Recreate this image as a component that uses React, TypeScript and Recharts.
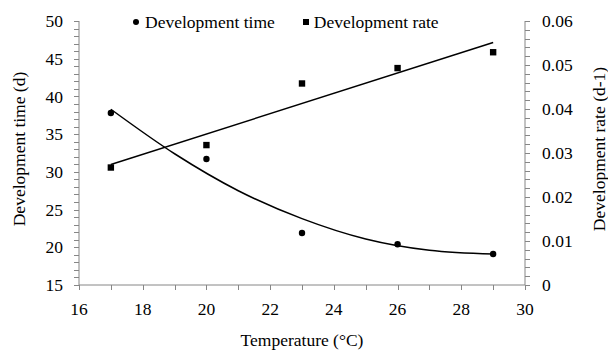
import React from 'react'
import {
  ComposedChart, Scatter, Line, XAxis, YAxis,
} from 'recharts'

// measured points
const temps = [17, 20, 23, 26, 29]
const devTime = [37.8, 31.7, 21.9, 20.4, 19.1]
const devRate = [0.0267, 0.0318, 0.0458, 0.0493, 0.0529]

// trend lines
const timeTrendX = [17, 19, 21, 23, 25, 27, 29]
const timeTrendY = [38.3, 32.4, 27.5, 23.8, 21.1, 19.6, 19.1]
const rateTrendX = [17, 29]
const rateTrendY = [0.0274, 0.0551]

const xTicks = [16, 17, 18, 19, 20, 21, 22, 23, 24, 25, 26, 27, 28, 29, 30]
const xLabels = [16, 18, 20, 22, 24, 26, 28, 30]
const leftLabels = [15, 20, 25, 30, 35, 40, 45, 50]
const rightLabels = [0, 0.01, 0.02, 0.03, 0.04, 0.05, 0.06]
const leftTicks: number[] = []
for (let v = 15; v <= 50; v++) leftTicks.push(v)
const rightTicks: number[] = []
for (let i = 0; i <= 30; i++) rightTicks.push(Number((i * 0.002).toFixed(3)))

const FONT = '"Liberation Serif", "Times New Roman", serif'
const AXIS = '#868686'
const FS = 17.5

const timeData = temps.map((t, i) => ({ t, v: devTime[i] }))
const rateData = temps.map((t, i) => ({ t, v: devRate[i] }))
const timeTrend = timeTrendX.map((t, i) => ({ t, v: timeTrendY[i] }))
const rateTrend = rateTrendX.map((t, i) => ({ t, v: rateTrendY[i] }))

// tick marks placed on the axis lines (major + minor)
const leftTickData = leftTicks.map((v) => ({ t: 16, v }))
const rightTickData = rightTicks.map((v) => ({ t: 30, v }))
const bottomTickData = xTicks.map((t) => ({ t, v: 15 }))

const Dot = (p: any) => <circle cx={p.cx} cy={p.cy} r={3.2} fill="#000" />
const Square = (p: any) => <rect x={p.cx - 3.2} y={p.cy - 3.2} width={6.4} height={6.4} fill="#000" />
const LeftMark = (p: any) => {
  const y = Math.round(p.cy) + 0.5
  return <line x1={p.cx - 5} x2={p.cx} y1={y} y2={y} stroke={AXIS} shapeRendering="crispEdges" />
}
const RightMark = (p: any) => {
  const y = Math.round(p.cy) + 0.5
  return <line x1={p.cx} x2={p.cx + 5} y1={y} y2={y} stroke={AXIS} shapeRendering="crispEdges" />
}
const BottomMark = (p: any) => {
  const x = Math.round(p.cx) + 0.5
  return <line x1={x} x2={x} y1={p.cy} y2={p.cy + 5} stroke={AXIS} shapeRendering="crispEdges" />
}

const textStyle = { fontSize: FS, fontFamily: FONT, fill: '#000' }

const fmtRate = (v: number) => (v === 0 ? '0' : v.toFixed(2))

export default function App() {
  return (
    <div style={{ position: 'absolute', left: 0, top: 0, width: 608, height: 351, background: '#fff', fontFamily: FONT }}>
      <ComposedChart width={608} height={351} margin={{ top: 21, right: 0, bottom: 0, left: 0 }}>
        <XAxis
          type="number"
          dataKey="t"
          domain={[16, 30]}
          ticks={xLabels}
          interval={0}
          height={66}
          stroke={AXIS}
          tickLine={false}
          tickSize={5}
          tickMargin={13}
          tick={textStyle}
          label={{
            content: (props: any) => {
              const vb = props.viewBox
              return (
                <text x={vb.x + vb.width / 2} y={340} textAnchor="middle" dominantBaseline="central" style={textStyle}>
                  Temperature (°C)
                </text>
              )
            },
          }}
        />
        <YAxis
          yAxisId="left"
          type="number"
          domain={[15, 50]}
          ticks={leftLabels}
          interval={0}
          width={79}
          stroke={AXIS}
          tickLine={false}
          tickSize={5}
          tickMargin={11}
          tick={textStyle}
          label={{
            content: (props: any) => {
              const vb = props.viewBox
              const cy = vb.y + vb.height / 2 - 4
              return (
                <text x={19} y={cy} textAnchor="middle" dominantBaseline="central"
                  transform={`rotate(-90 19 ${cy})`} style={textStyle}>
                  Development time (d)
                </text>
              )
            },
          }}
        />
        <YAxis
          yAxisId="right"
          orientation="right"
          type="number"
          domain={[0, 0.06]}
          ticks={rightLabels}
          interval={0}
          tickFormatter={fmtRate}
          width={83}
          stroke={AXIS}
          tickLine={false}
          tickSize={5}
          tickMargin={12}
          tick={textStyle}
          label={{
            content: (props: any) => {
              const vb = props.viewBox
              const cy = vb.y + vb.height / 2 - 4
              return (
                <text x={599} y={cy} textAnchor="middle" dominantBaseline="central"
                  transform={`rotate(-90 599 ${cy})`} style={textStyle}>
                  Development rate (d-1)
                </text>
              )
            },
          }}
        />
        <Scatter yAxisId="left" data={leftTickData} dataKey="v" shape={LeftMark} isAnimationActive={false} />
        <Scatter yAxisId="right" data={rightTickData} dataKey="v" shape={RightMark} isAnimationActive={false} />
        <Scatter yAxisId="left" data={bottomTickData} dataKey="v" shape={BottomMark} isAnimationActive={false} />
        <Line yAxisId="left" data={timeTrend} dataKey="v" type="monotone" stroke="#000" strokeWidth={1.5}
          dot={false} activeDot={false} isAnimationActive={false} />
        <Line yAxisId="right" data={rateTrend} dataKey="v" type="linear" stroke="#000" strokeWidth={1.5}
          dot={false} activeDot={false} isAnimationActive={false} />
        <Scatter yAxisId="left" data={timeData} dataKey="v" shape={Dot} isAnimationActive={false} />
        <Scatter yAxisId="right" data={rateData} dataKey="v" shape={Square} isAnimationActive={false} />
      </ComposedChart>
      <div style={{ position: 'absolute', top: 12, left: 133, display: 'flex', alignItems: 'center',
        fontFamily: FONT, fontSize: FS, color: '#000', whiteSpace: 'nowrap', lineHeight: '20px' }}>
        <span style={{ display: 'inline-block', width: 6, height: 6, borderRadius: 3, background: '#000', marginRight: 6 }} />
        <span>Development time</span>
        <span style={{ display: 'inline-block', width: 6, height: 6, background: '#000', marginLeft: 28, marginRight: 5 }} />
        <span>Development rate</span>
      </div>
    </div>
  )
}
